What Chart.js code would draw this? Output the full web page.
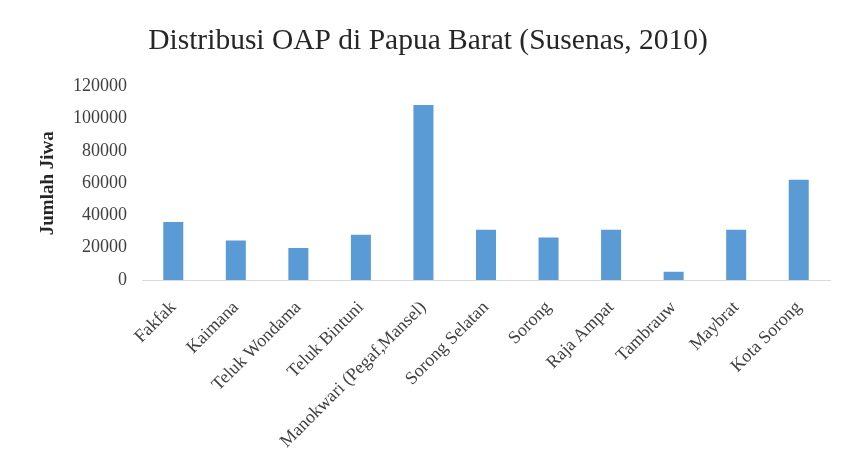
<!DOCTYPE html>
<html>
<head>
<meta charset="utf-8">
<script src="https://cdn.jsdelivr.net/npm/chart.js@4.4.1/dist/chart.umd.min.js"></script>
<style>
  html, body { margin: 0; padding: 0; background: #ffffff; }
  #wrap { position: relative; width: 852px; height: 466px; }
</style>
</head>
<body>
<div id="wrap"><canvas id="c" width="852" height="466"></canvas></div>
<script>
// Population of indigenous Papuans (OAP) per regency/city, West Papua
const categories = [
  'Fakfak', 'Kaimana', 'Teluk Wondama', 'Teluk Bintuni',
  'Manokwari (Pegaf,Mansel)', 'Sorong Selatan', 'Sorong', 'Raja Ampat',
  'Tambrauw', 'Maybrat', 'Kota Sorong'
];
const jumlahJiwa = [36000, 24500, 19800, 28000, 108400, 31200, 26300, 31200, 5100, 31200, 62200];
const yTicks = [0, 20000, 40000, 60000, 80000, 100000, 120000];

const serif = "'Liberation Serif', 'Times New Roman', serif";

new Chart(document.getElementById('c'), {
  type: 'bar',
  data: {
    labels: categories,
    datasets: [{
      data: jumlahJiwa,
      backgroundColor: '#5B9BD5',
      borderWidth: 0,
      barPercentage: 0.64,
      categoryPercentage: 0.5
    }]
  },
  options: {
    responsive: false,
    animation: false,
    layout: { padding: { left: 26, right: 22, top: 0, bottom: 0 } },
    plugins: {
      legend: { display: false },
      tooltip: { enabled: false },
      title: {
        display: true,
        text: 'Distribusi OAP di Papua Barat (Susenas, 2010)',
        color: '#262626',
        font: { family: serif, size: 29.5, weight: 'normal' },
        padding: { top: 24, bottom: 27 }
      }
    },
    scales: {
      x: {
        grid: { display: false, drawTicks: false },
        border: { display: true, color: '#d9d9d9', width: 1 },
        ticks: {
          color: '#404040',
          font: { family: serif, size: 18 },
          maxRotation: 45,
          minRotation: 45,
          padding: 17,
          autoSkip: false
        },
        afterFit(scale) { scale.height = 186; }
      },
      y: {
        min: 0,
        max: 120000,
        afterBuildTicks(scale) { scale.ticks = yTicks.map(v => ({ value: v })); },
        grid: { display: false, drawTicks: false },
        border: { display: false },
        ticks: {
          color: '#404040',
          font: { family: serif, size: 18 },
          padding: 15,
          callback: (v) => String(v)
        },
        title: {
          display: true,
          text: 'Jumlah Jiwa',
          color: '#262626',
          font: { family: serif, size: 19, weight: 'bold' },
          padding: { top: 11, bottom: 0 }
        },
        afterFit(scale) { scale.width = 116; }
      }
    }
  }
});
</script>
</body>
</html>
